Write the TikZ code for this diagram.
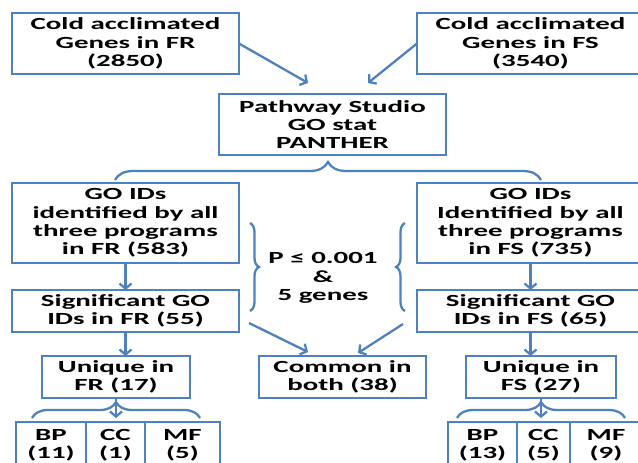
\documentclass[tikz,border=0pt]{standalone}
\usepackage{fontspec}
\newfontfamily\boxfont{Carlito}[FakeStretch=1.7]
\usepackage{tikz}
\usetikzlibrary{positioning,arrows.meta,calc,decorations.pathreplacing}
\definecolor{lineblue}{RGB}{79,129,189}

\begin{document}
\begin{tikzpicture}[
    x=1pt, y=1pt,
    node distance=20pt,
    box/.style={rectangle, draw=lineblue, line width=2.5pt, inner sep=0pt, outer sep=0pt, align=center, font={\fontsize{17pt}{18.3pt}\boxfont\bfseries}},
    wide/.style={box, minimum width=227pt},
    cell/.style={box, minimum height=46pt},
    arrow/.style={-{Straight Barb[length=5pt,width=12pt]}, line width=2.3pt, lineblue},
    brace/.style={decorate, decoration={brace, amplitude=#1}, line width=2.3pt, lineblue},
]
    \useasboundingbox (0,0) rectangle (638,-463);
    \clip (0,0) rectangle (638,-463);

    % Input gene sets
    \node[wide, minimum height=61pt] (coldFR) at (125.5,-43.5) {Cold acclimated\\Genes in FR\\(2850)};
    \node[wide, minimum height=61pt, right=178pt of coldFR] (coldFS) {Cold acclimated\\Genes in FS\\(3540)};
    \node[wide, minimum height=61pt, below right=20pt and -20pt of coldFR] (tools) {Pathway Studio\\GO stat\\PANTHER};

    % GO IDs per line
    \node[wide, minimum height=80pt, below=109pt of coldFR] (goFR) {GO IDs\\identified by all\\three programs\\in FR (583)};
    \node[wide, minimum height=80pt, below=109pt of coldFS] (goFS) {GO IDs\\Identified by all\\three programs\\in FS (735)};
    \node[wide, minimum height=42pt, below=27pt of goFR] (sigFR) {Significant GO\\IDs in FR (55)};
    \node[wide, minimum height=42pt, below=27pt of goFS] (sigFS) {Significant GO\\IDs in FS (65)};

    % Criteria
    \node[box, draw=none] (crit) at ($(goFR.east)!0.5!(sigFS.west)+(-5,-11)$) {P ≤ 0.001\\\&\\5 genes};

    % Unique and common
    \node[box, minimum width=148pt, minimum height=42pt, below=24pt of sigFR, xshift=-9.5pt] (uniqFR) {Unique in\\FR (17)};
    \node[box, minimum width=150pt, minimum height=42pt, below=24pt of sigFS, xshift=10.5pt] (uniqFS) {Unique in\\FS (27)};
    \node[box, minimum width=167pt, minimum height=42pt, right=69pt of uniqFR] (common) {Common in\\both (38)};

    % Categories FR
    \node[cell, minimum width=70pt, below left=24pt and -44pt of uniqFR] (bpFR) {BP\\(11)};
    \node[cell, minimum width=59pt, right=0pt of bpFR] (ccFR) {CC\\(1)};
    \node[cell, minimum width=75pt, right=0pt of ccFR] (mfFR) {MF\\(5)};

    % Categories FS
    \node[cell, minimum width=69pt, below left=24pt and -51pt of uniqFS] (bpFS) {BP\\(13)};
    \node[cell, minimum width=53pt, right=0pt of bpFS] (ccFS) {CC\\(5)};
    \node[cell, minimum width=72pt, right=0pt of ccFS] (mfFS) {MF\\(9)};

    % Arrows into tools
    \draw[arrow] (coldFR.east) -- ($(tools.north)+(-24.5,11)$);
    \draw[arrow] (coldFS.west) -- ($(tools.north)+(35.5,11)$);

    % Braces
    \draw[brace=18pt] ($(goFR.north)+(-10.5,3)$) -- ($(goFS.north)+(10.5,3)$);
    \draw[brace=9pt] ($(goFR.east)+(11,0)$) -- ($(sigFR.east)+(11,0)$);
    \draw[brace=9pt] ($(sigFS.west)+(-12,0)$) -- ($(goFS.west)+(-12,0)$);
    \draw[brace=16pt] ($(bpFR.north west)+(16,4)$) -- ($(mfFR.north east)+(-20,4)$);
    \draw[brace=16pt] ($(bpFS.north west)+(9,4)$) -- ($(mfFS.north east)+(-17,4)$);

    % Down the columns
    \draw[arrow] (goFR) -- (sigFR);
    \draw[arrow] (goFS) -- (sigFS);
    \draw[arrow] (sigFR.south) -- (sigFR.south |- uniqFR.north);
    \draw[arrow] (sigFS.south) -- (sigFS.south |- uniqFS.north);
    \draw[arrow, shorten >=4pt] (uniqFR.south) -- (uniqFR.south |- bpFR.north);
    \draw[arrow, shorten >=4pt] (uniqFS.south) -- (uniqFS.south |- bpFS.north);

    % Into common
    \draw[arrow] ($(sigFR.south east)+(10,9)$) -- ($(common.north)+(-34.5,4)$);
    \draw[arrow] ($(sigFS.south west)+(-14,8)$) -- ($(common.north)+(15.5,3)$);
\end{tikzpicture}
\end{document}
